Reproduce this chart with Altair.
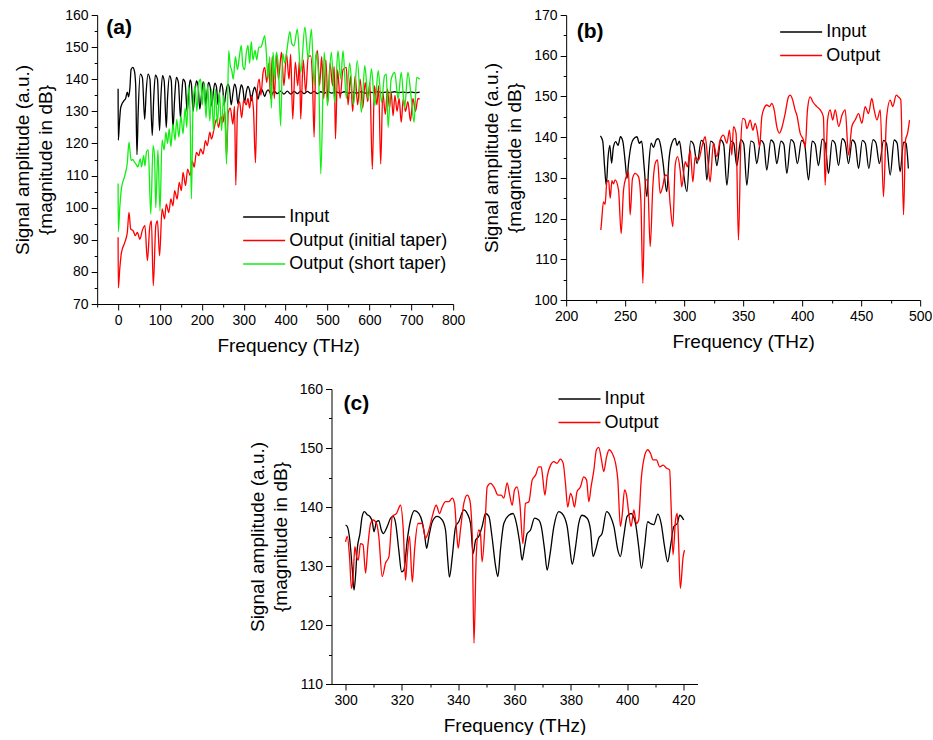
import altair as alt
import pandas as pd

FONT = "Liberation Sans"

# ---------------- Panel (a) ----------------
A_NAMES = ["Input", "Output (initial taper)", "Output (short taper)"]
A_COLORS = ["#000000", "#ff0000", "#11ee11"]

A_INPUT = [(0,137),(0.5,121),(3,126),(6,131),(10,132.5),(14,133.3),(18,134),(22,136),(25,134.5),(28,137),(31,143),(35,143.7),(39,142.5),(42,138),(45,116.5),(48,130),(53,141.6),(58,140.5),(63.5,127.5),(67,136),(71.5,141.6),(76,140),(81.5,122.5),(85,134),(89,141.3),(94,140),(99,124),(102,134),(106,141.1),(110,139.5),(115,125),(118,134),(123,141),(127,139.5),(131,124.5),(135,134),(139,140.6),(144,139),(149,128),(152,135),(155,140),(160,139),(165,129.7),(168,135),(172,139.8),(175,138.5),(179,130),(183,135),(187,139.5),(191,138),(195,130.7),(199,135),(203,139.2),(206,138),(209,131.8),(212,135.5),(216,139),(220,137.5),(224,131.6),(227,135.5),(231,138.8),(235,137.5),(238.6,132),(242,135.5),(246,138.7),(250,137),(253,131.8),(257,135.5),(262,138.5),(266,137),(270,132),(274,135.5),(278,138.5),(282,137),(286,132.3),(290,135.5),(294,138.2),(298,137),(302,132.8),(306,136),(310,137.8),(314,136.5),(318,133.3),(322,136),(326,137.5),(330,136),(334,133.8),(338,136),(342,137),(346,136),(350,134.6),(354,136),(358,136.7),(362,136),(366,134.9),(370,136),(374,136.1),(380,135.5),(388,136.3),(396,135.4),(404,136.3),(412,135.4),(420,136.2),(428,135.5),(436,136.3),(444,135.5),(452,136.2),(460,135.6),(468,136.2),(476,135.5),(484,136.1),(492,135.6),(500,136.2),(510,135.7),(520,136.1),(530,135.6),(540,136.1),(550,135.7),(560,136.0),(570,135.7),(580,136.1),(590,135.7),(600,136.0),(610,135.8),(620,136.1),(630,135.8),(640,136.0),(650,135.8),(660,136.1),(670,135.8),(680,136.0),(690,135.8),(700,136.0),(710,135.8),(720,136.0)]

A_INITIAL = [(0,90.8),(0.5,75),(4,81),(8,86),(16,89.2),(22,92.3),(26,98.5),(30,93.4),(36,92.8),(41,91.3),(46,92.3),(52,90.2),(58,93),(64,94.4),(70,83.5),(75.5,93.9),(79.5,95.9),(84,75.7),(90,94.4),(94,95.9),(99,85),(105,99.6),(111,96.5),(115,101.1),(121,98.5),(126,102.7),(131,100.6),(135,105.3),(141,102.7),(146,107.9),(151,105.3),(155,111),(161,106.9),(166,112),(172,110),(177,114.6),(181.5,112.6),(187,117.2),(192.6,116.2),(197,118.3),(203,116.7),(208.5,120.9),(213,119.3),(219,123.5),(223,121.4),(229,124.5),(235,127.6),(240,125),(245,128.5),(250,126.5),(255,130),(259,116),(263,129.5),(268,131),(274,126),(278,131.5),(281,107),(285,130),(290,133),(295,128),(300,133.5),(306,132),(310,134),(314,131),(318,135),(323,131),(328,114),(332,136),(337,140),(341,135),(346,142),(350,143.7),(355,139),(360,145),(364,134),(368,147),(373,134),(378,147.8),(383,140),(390,148.4),(396,138),(402,148),(408,140),(412,147.8),(417,127.6),(423,145.3),(429,138),(433,146),(436,127.6),(442,146),(448,136),(454,147),(460,147.3),(464,140),(468,122),(472,146),(476,148.9),(481,138),(486,147),(491,134),(496,146),(501,133),(506,145),(512,138),(516,144),(519,121.4),(524,143),(530,134),(537,143),(545,143.7),(549,132),(555,141),(560,130),(566,141),(572,132),(578,140),(584,131),(590,139),(596,133),(601,139),(607,112),(612,138),(618,132),(622,138),(627,113.6),(632,136),(638,129),(643,137),(648,131),(652,136),(656.5,128.6),(661,135),(666,130),(671,134),(676,126.6),(681,134),(686,130),(692,133),(698,127),(704,134),(710,130),(716,134),(720,133.8)]

A_SHORT = [(0,107.5),(0.5,92.5),(4,100),(8,106),(16,110),(22,114),(26,120.4),(31,114.7),(35,115),(39,114.2),(43,113.5),(47,112.7),(53,115.2),(56,112.7),(61,116.2),(64,113),(68,117.5),(72,118),(78,98),(83.5,119.3),(87,116),(90,100),(95,118),(100,99),(105,121),(110,118),(114,123.5),(118,120),(122,124.5),(126,119),(131,126),(136,121),(140,127.5),(145,122),(150,128.5),(155,123),(160,131),(164,125),(168,138),(172,128),(175,102.7),(179,132),(184,138),(188,130),(193,139),(197,140),(201,132),(205,139),(210,128),(214,138),(219,127),(223,137),(228,124),(232,137),(237,126),(242,136),(247,124),(252,135),(256,125),(259,113.6),(264,148.9),(268,144),(271,143),(275,140),(280,147),(285,143),(290,147.5),(294,150.5),(298,144),(302,143),(306,148),(310,150.5),(314,145),(318,151.7),(322,146),(327,149),(331,146),(336,150),(341,150),(346,152),(350,153.6),(354,148),(358,140),(362,147),(366,131),(370,148.4),(374,140),(378,148.4),(383,143),(388,125.5),(393,148),(398,145),(404,150),(410,154.8),(415,151),(420,150.4),(428,155.6),(436,142.1),(446,156.2),(454,146.3),(461.5,155.6),(468,138),(473,148.4),(479,140),(484,110.5),(492,148.4),(500,131.8),(509,148.4),(517,132.8),(525,148.9),(531.5,140),(537,148.9),(545,134),(553,145),(562,132),(571,145.8),(581,129.7),(589,144.2),(597,133.8),(605,143.2),(613,131.8),(621,142.7),(629,132.8),(636,141),(640.6,141.6),(644.6,125),(652,140),(660.5,142.1),(668.5,133.8),(676,142.1),(684,131),(692,142.1),(700,134),(706.6,126.6),(713,140.6),(720,140)]

# ---------------- Panel (b) ----------------
B_NAMES = ["Input", "Output"]
B_COLORS = ["#000000", "#ff0000"]

B_INPUT = [(229,140.3),(231,139),(232.5,133),(234,128.2),(235.5,135),(237,138),(238.5,133.6),(240,137.5),(242,138.9),(244,138),(246,140.1),(248,139),(250,134),(251.5,129.9),(253,134),(255,138),(257,139.5),(260,140.1),(262,138.5),(264,139),(266,133),(268.4,125.4),(270,133),(272,138.5),(274,137.5),(276.3,139.3),(278,139.6),(280,138),(282,134),(285.3,126.6),(287,134),(289,138),(292.4,139.7),(294,138),(296,139),(298,135),(300,130),(302.3,126.6),(305.5,139),(308,138.2),(311,133.5),(314.5,139.2),(317,138.3),(319.2,129.5),(322.5,139),(325,138.4),(327.7,133),(331,139.3),(333.5,138.2),(336.2,128.2),(339.5,139),(342,138.5),(344.6,133),(348,139.4),(350.5,138.3),(353.1,128.2),(356.5,139),(359,138.6),(361.5,133.5),(365,139.2),(367.5,138.3),(370,131.9),(373.5,139.3),(376,138.5),(378.5,133.5),(382,139),(384.5,138.2),(387,131.1),(390.5,139.4),(393,138.6),(396,133.5),(399.5,139.2),(402,138.4),(405.4,129.5),(408.5,139),(411,138.3),(413.8,133),(417,139.5),(419.5,138.5),(422.3,131.1),(425.5,139.2),(428,138.4),(430.8,133),(434,139.6),(436.5,138.7),(439.3,133.5),(442.5,139.3),(445,138.4),(447.8,132.3),(451,139.2),(453.5,138.5),(456.5,132.3),(460,139.4),(462.5,138.6),(465.5,133.5),(469,139.2),(471.5,138.4),(474.6,130.7),(478,139.3),(480.5,138.5),(483,131.5),(486,138.8),(488,138.5),(490,132.3)]

B_OUTPUT = [(229.4,117.2),(230,119.2),(231.6,124.1),(233,123.5),(234.5,129),(236,129.3),(237.3,125),(238.8,129.3),(240.1,128.5),(241.5,129.5),(244.4,127),(246.6,116.3),(248.6,127),(250.9,130.3),(252.8,131.5),(254.2,120.9),(256.2,129.8),(258.5,131.1),(261.3,130.3),(263.3,124.5),(265,104.1),(267,129.5),(269,129.5),(271.2,113.1),(273.5,128.2),(275.4,133.5),(277.4,134.4),(279.7,126.2),(281.9,128),(283.9,130.7),(286.2,130.3),(288.1,123.7),(290.4,118),(292.4,133.1),(294.4,135.2),(296.6,131.9),(298,127.8),(300.9,134),(302.8,132.7),(305.1,136.8),(307.4,129),(309.3,135.2),(312.2,134.4),(315,137.6),(317.8,140.1),(319.8,135.2),(322,129),(324.8,138.5),(327.6,135.2),(330.5,139.3),(333.3,140.5),(336.2,138.5),(338.4,141.7),(340.4,135.6),(341.8,142.6),(344,140.9),(346,114.7),(348,138.5),(349.7,144.6),(351.7,144.2),(353.1,142.1),(356,144.2),(358.2,141.7),(360.2,143.4),(362.2,141),(363.9,137.6),(365.8,145),(367.8,147.1),(370,147.9),(372.3,147.5),(374.3,148.3),(376.3,146.7),(378.5,142.6),(380.8,141),(382.8,142.3),(385.6,145.8),(388.4,149.9),(389.8,150.3),(392,149.1),(394,146.7),(395.5,145.4),(398.3,141),(401.1,139.3),(402.6,137.6),(404.5,146.7),(406.8,149.9),(409,148.7),(412.4,147.5),(415.3,146.7),(418,145),(419.5,128.2),(421.5,144.2),(423.7,146.7),(425.9,144.2),(428,146.7),(431,142.6),(433.7,145.4),(436.5,146.7),(439.3,135.6),(442.1,142.6),(444.9,144.2),(447.8,145.8),(450.6,143.4),(453.4,147.5),(456.2,145.8),(459,149.5),(461,146.7),(463.4,144.2),(466.2,146.7),(468.9,125.4),(471.5,144.6),(474.6,149.1),(476.8,147.5),(479.7,150.3),(481.5,149.9),(483.6,149.1),(485.9,120.9),(487.6,139.3),(489.3,140.9),(491,144.2)]

# ---------------- Panel (c) ----------------
C_INPUT = [(300,136.95),(300.6,136.7),(301.5,134.4),(302.4,129.3),(303,125.9),(303.6,128.8),(304.1,132.7),(305.1,135.5),(305.9,138.4),(306.7,139.2),(307.7,138.7),(308.6,138.4),(309.5,137.5),(310.1,135.8),(311,137.5),(311.8,137.7),(312.7,136.1),(313.4,135.5),(314.8,136.7),(316,138.1),(316.9,138.4),(317.8,137.2),(318.9,132.7),(319.9,129.0),(320.7,129.3),(321.9,134.4),(323.1,137.8),(324.5,139.4),(326,138.9),(327.2,137.5),(328,135.5),(328.8,133),(329.6,135),(330.8,137.5),(332.5,138.4),(334.3,137.8),(335.5,136.1),(336.3,131),(336.9,128.1),(337.9,131.6),(339.1,136.7),(340.2,137.5),(342,139.5),(343.2,138.9),(344.4,137.2),(345.3,132.1),(346.2,134.4),(347.3,135),(348.5,136.7),(349.7,138.9),(350.9,138.4),(352,135),(353.3,129.9),(354.1,128.2),(355,132.7),(356.2,137.2),(358,138.6),(359.5,138.9),(360.7,137.2),(361.9,133.8),(362.7,131),(363.6,133.3),(364.5,135.5),(365.7,136.1),(367.1,138.1),(368.6,137.8),(369.5,136.7),(370.7,132.7),(371.6,129.3),(372.5,131.6),(374,136.7),(375.7,139.2),(376.9,138.9),(378.7,136.7),(379.6,133.3),(380.5,130.3),(381.7,133.3),(382.8,137.2),(384,138.6),(385.8,138.1),(387,136.1),(387.9,131.6),(388.8,132.7),(389.9,134.7),(391.1,135.5),(392.7,139.2),(394.1,138.4),(395.3,136.7),(396.7,132.7),(397.6,131.6),(398.8,135),(400,138.4),(401.4,138.9),(403,137.2),(404.1,133.3),(405.1,129.6),(406.2,133.3),(407.3,137.5),(408.3,137.2),(409.5,137),(410.9,138.8),(412.1,137.2),(413.3,133.3),(414.4,130.7),(415.4,133.3),(416.6,136.7),(417.8,137.2),(418.7,138.6),(420.1,137.8)]

C_OUTPUT = [(300,134.1),(300.6,135),(301.4,131.6),(302.1,126.2),(302.7,128.2),(303.3,133.3),(303.9,131.6),(304.5,131),(305.3,133.8),(306.2,133.6),(307.1,128.8),(307.9,133.3),(308.9,137.2),(309.8,137.8),(311,137.2),(311.8,135),(313,128.2),(314.2,130.5),(315.4,131.6),(316.6,138.4),(318.1,138.9),(319.5,140.3),(320.5,136.1),(321.3,127.6),(321.9,131.6),(322.7,135),(323.7,127.3),(324.5,132.7),(325.7,137.2),(327.2,137.2),(328.4,134.7),(329.6,136.1),(330.8,138.4),(332.2,140.3),(333.4,138.9),(334.3,140),(335.5,140.9),(336.7,140.9),(337.9,141.5),(338.7,140.6),(339.4,136.1),(340,133),(340.8,136.1),(342,140.6),(343.2,142),(344.1,141.2),(345,135),(345.6,116.9),(346.4,131.6),(347.3,136.1),(347.9,135.5),(348.5,130.7),(349.5,136.7),(350.3,143.4),(351.5,144),(352.9,143.2),(354.1,142),(355.3,142),(356.2,141.5),(357.4,144.1),(358.3,142),(359.2,140.3),(360,142.9),(360.9,143.4),(361.9,140.6),(363,133.8),(363.9,140.6),(365.1,140.9),(366.3,144.6),(367.5,145.4),(368.6,146.8),(369.5,146.8),(370,145.1),(370.8,142),(371.6,145.1),(372.8,147.1),(374,147.7),(375.1,147.4),(376.3,148.1),(377.3,147.4),(378.1,144),(378.9,140),(379.9,142.3),(380.5,141.7),(381.3,140),(382.2,142.6),(383.4,143.4),(384.6,145.1),(385.6,144.6),(386.4,140.9),(387.2,143.4),(388.2,146.3),(389.1,149.7),(389.9,150.1),(390.9,148),(391.7,146),(392.7,148.5),(393.6,149.7),(394.7,149.1),(395.9,147.4),(396.7,144.6),(397.6,136.7),(398.2,138.4),(399.1,142.9),(399.8,142),(400.6,138.9),(401.4,136.7),(402.4,139.5),(403.3,137.2),(404.1,137.8),(405,144.6),(405.9,148),(407.3,149.7),(408.3,149.1),(409.2,148),(410.4,148),(411.6,146.8),(412.8,147.1),(413.9,146.6),(415.1,146.3),(415.6,140.6),(416.3,131.9),(417.2,137.8),(417.8,138.9),(418.3,133.8),(418.9,126.2),(419.9,131.6),(420.4,132.7)]

PANEL_LABELS = ["(a)", "(b)", "(c)"]
LABEL_POS = [(-28, 156), (209, 165.8), (299.3, 157.5)]

Y_TITLE = ["Signal amplitude (a.u.)", "{magnitude in dB}"]
X_TITLE = "Frequency (THz)"


def frame(names, series):
    rows = []
    for name, pts in zip(names, series):
        for i, (f, v) in enumerate(pts):
            rows.append({"s": name, "f": f, "v": v, "i": i})
    return pd.DataFrame(rows)


def panel(names, colors, series, xdom, xstart, xend, xstep, xmajor,
          ydom, ystep, ymajor, w, h, leg_x, leg_y, label, label_pos, title_x):
    df = frame(names, series)
    xvals = list(range(xstart, xend + 1, xstep))
    yvals = list(range(ydom[0], ydom[1] + 1, ystep))
    xenc = alt.X("f:Q", scale=alt.Scale(domain=xdom, nice=False, zero=False),
                 axis=alt.Axis(values=xvals, title=X_TITLE, grid=False,
                               labelExpr=f"datum.value % {xmajor} === 0 ? datum.label : ''",
                               tickSize={"condition": {"test": f"datum.value % {xmajor} === 0", "value": 6}, "value": 3},
                               labelOverlap=False, labelFlush=False, labelPadding=3, titlePadding=9,
                               titleX=title_x, titleAlign="center"))
    yenc = alt.Y("v:Q", scale=alt.Scale(domain=ydom, nice=False, zero=False),
                 axis=alt.Axis(values=yvals, title=Y_TITLE, grid=False,
                               labelExpr=f"datum.value % {ymajor} === 0 ? datum.label : ''",
                               tickSize={"condition": {"test": f"datum.value % {ymajor} === 0", "value": 6}, "value": 3},
                               labelOverlap=False, labelFlush=False, labelPadding=3, titlePadding=9,
                               titleLineHeight=23))
    lines = alt.Chart(df).mark_line(strokeWidth=1.3, interpolate="monotone").encode(
        x=xenc, y=yenc,
        color=alt.Color("s:N", scale=alt.Scale(domain=names, range=colors),
                        legend=alt.Legend(title=None, orient="none", legendX=leg_x, legendY=leg_y,
                                          symbolType="M-1,0H7.4", symbolSize=100,
                                          symbolStrokeWidth=1.5, labelFontSize=18, labelFont=FONT,
                                          labelColor="#000000", labelOffset=32, rowPadding=5.5,
                                          padding=0, labelLimit=400)),
        order=alt.Order("i:Q"),
    )
    ldf = pd.DataFrame({"f": [label_pos[0]], "v": [label_pos[1]], "t": [label]})
    txt = alt.Chart(ldf).mark_text(font=FONT, fontSize=21, fontWeight="bold", align="left",
                                   baseline="middle", color="#000000").encode(x=xenc, y=yenc, text="t:N")
    return alt.layer(lines, txt).properties(width=w, height=h)


pa = panel(A_NAMES, A_COLORS, [A_INPUT, A_INITIAL, A_SHORT], [-50, 800], -50, 800, 50, 100,
           [70, 160], 5, 10, 356, 289, 142, 193, PANEL_LABELS[0], LABEL_POS[0], 191)
pb = panel(B_NAMES, B_COLORS, [B_INPUT, B_OUTPUT], [200, 500], 200, 500, 25, 50,
           [100, 170], 5, 10, 354, 285, 210, 8, PANEL_LABELS[1], LABEL_POS[1], 177)
pc = panel(B_NAMES, B_COLORS, [C_INPUT, C_OUTPUT], [295, 425], 300, 420, 10, 20,
           [110, 160], 5, 10, 366, 295, 223, 1, PANEL_LABELS[2], LABEL_POS[2], 183)

top = alt.hconcat(pa, pb, spacing=17).resolve_scale(color="independent").resolve_legend(color="independent")
chart = alt.vconcat(top, pc, spacing=27, center=True).resolve_scale(
    color="independent").resolve_legend(color="independent").properties(
    padding={"left": 13, "top": 8, "right": 0, "bottom": 0},
    background="#ffffff",
).configure_axis(
    labelFont=FONT, labelFontSize=14, labelColor="#000000",
    titleFont=FONT, titleFontSize=19, titleFontWeight="normal", titleColor="#000000",
    domainColor="#000000", tickColor="#000000", domainWidth=1, tickWidth=1,
).configure_view(stroke=None)

chart.save("out.html", embed_options={"renderer": "svg", "actions": False})
